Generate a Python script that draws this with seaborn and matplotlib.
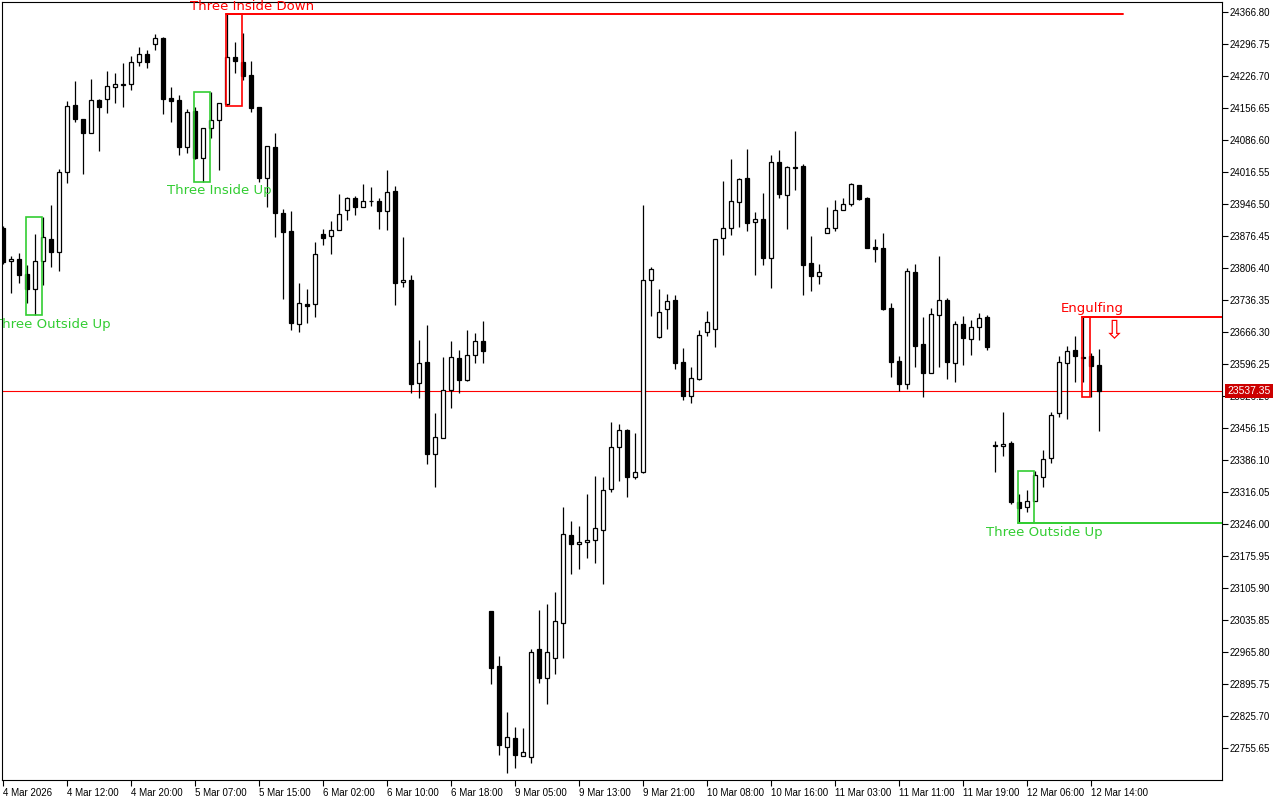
import matplotlib
matplotlib.use("Agg")
import matplotlib.pyplot as plt
import numpy as np
import pandas as pd
import seaborn as sns
from matplotlib.patches import Rectangle

# hourly candles
opens = [
    23894.0, 23821.7, 23826.1, 23793.3, 23759.8, 23821.1, 23869.9, 23840.8, 24017.2, 24163.2,
    24132.6, 24101.3, 24174.2, 24175.7, 24202.0, 24208.1, 24208.5, 24256.7, 24274.9, 24296.1,
    24309.2, 24178.5, 24174.2, 24070.6, 24149.4, 24047.9, 24112.2, 24129.7, 24164.8, 24267.6,
    24257.4, 24228.2, 24158.8, 24002.8, 24071.3, 23926.1, 23887.4, 23683.8, 23728.3, 23727.6,
    23880.2, 23875.8, 23888.9, 23932.7, 23959.0, 23939.3, 23952.0, 23952.4, 23930.5, 23974.3,
    23775.1, 23779.5, 23554.0, 23600.0, 23398.6, 23433.6, 23538.7, 23608.7, 23560.6, 23615.3,
    23645.9, 23055.6, 22935.2, 22757.2, 22776.9, 22737.5, 22736.6, 22971.7, 22909.5, 22952.0,
    23029.9, 23221.9, 23201.6, 23205.9, 23210.3, 23232.2, 23322.0, 23413.9, 23451.8, 23348.2,
    23360.5, 23779.5, 23656.0, 23716.0, 23735.7, 23600.0, 23526.9, 23564.1, 23665.6, 23673.5,
    23871.4, 23893.3, 23951.5, 24002.8, 23906.4, 23913.0, 23829.0, 24037.8, 23966.9, 24026.4,
    24029.0, 23816.7, 23789.6, 23882.4, 23893.3, 23932.7, 23945.9, 23988.1, 23959.6, 23851.7,
    23849.5, 23718.8, 23602.2, 23551.8, 23797.0, 23639.4, 23575.9, 23702.9, 23735.7, 23597.8,
    23683.2, 23650.3, 23676.6, 23699.1, 23417.8, 23416.1, 23422.7, 23294.2, 23283.2, 23295.7,
    23348.2, 23389.8, 23488.3, 23598.4, 23626.2, 23611.6, 23613.8, 23594.1,
]
highs = [
    23898.3, 23832.7, 23839.9, 23813.0, 23880.8, 23917.4, 23944.3, 24022.5, 24172.0, 24215.8,
    24132.6, 24219.5, 24175.7, 24237.6, 24233.9, 24255.8, 24270.5, 24289.5, 24283.6, 24318.0,
    24312.7, 24202.0, 24185.1, 24155.1, 24158.2, 24112.9, 24192.3, 24166.9, 24362.4, 24301.1,
    24320.8, 24259.5, 24158.8, 24073.5, 24101.3, 23934.9, 23931.8, 23772.9, 23759.8, 23862.7,
    23891.1, 23909.3, 23968.4, 23961.2, 23964.0, 23990.3, 23983.1, 23959.0, 24020.9, 23985.9,
    23873.6, 23790.4, 23648.1, 23681.6, 23488.3, 23610.9, 23646.6, 23626.2, 23670.7, 23664.1,
    23689.7, 23055.6, 22957.1, 22835.1, 22801.6, 22799.4, 22971.7, 23057.7, 23070.9, 23097.2,
    23283.2, 23252.6, 23241.6, 23311.7, 23351.1, 23348.9, 23469.3, 23464.9, 23454.0, 23445.2,
    23944.3, 23807.9, 23760.4, 23749.5, 23747.3, 23630.6, 23589.7, 23670.7, 23712.3, 23869.2,
    23996.9, 24045.0, 24002.8, 24066.9, 23928.3, 23970.6, 24053.8, 24064.7, 24029.0, 24106.3,
    24033.4, 23875.8, 23815.2, 23939.9, 23955.3, 23959.6, 23992.5, 23988.1, 23961.8, 23869.2,
    23883.0, 23729.8, 23613.1, 23805.7, 23814.5, 23698.5, 23718.2, 23832.0, 23740.1, 23689.7,
    23700.7, 23691.9, 23707.2, 23702.9, 23427.7, 23491.2, 23427.0, 23311.7, 23319.8, 23362.7,
    23408.0, 23491.2, 23613.8, 23635.0, 23658.2, 23699.8, 23619.7, 23629.1,
]
lows = [
    23815.2, 23751.7, 23772.9, 23729.1, 23703.5, 23769.2, 23807.9, 23800.5, 23991.8, 24125.3,
    24011.5, 24101.3, 24063.2, 24146.4, 24166.9, 24159.5, 24196.1, 24249.3, 24243.6, 24283.6,
    24143.5, 24126.7, 24053.8, 24058.8, 24044.4, 23995.3, 24090.3, 24020.9, 24161.0, 24232.6,
    24217.9, 24148.6, 23995.3, 23940.6, 23874.9, 23738.5, 23670.7, 23665.6, 23686.7, 23699.8,
    23856.8, 23837.7, 23888.9, 23911.5, 23923.1, 23939.3, 23942.8, 23891.8, 23890.2, 23726.1,
    23765.5, 23532.1, 23522.5, 23376.7, 23327.7, 23433.6, 23500.6, 23532.1, 23558.4, 23599.1,
    23599.1, 22895.1, 22740.3, 22700.3, 22711.2, 22737.5, 22723.5, 22898.6, 22851.3, 22917.0,
    22953.3, 23137.2, 23148.2, 23172.2, 23161.3, 23115.3, 23316.7, 23340.8, 23305.1, 23345.2,
    23358.3, 23702.0, 23652.5, 23672.9, 23586.0, 23517.4, 23511.5, 23561.9, 23658.2, 23634.1,
    23834.9, 23878.6, 23896.2, 23888.1, 23791.1, 23813.0, 23763.3, 23960.3, 23892.4, 23977.2,
    23748.0, 23756.7, 23772.0, 23882.4, 23886.7, 23932.7, 23941.5, 23955.9, 23850.8, 23818.9,
    23715.1, 23568.5, 23537.8, 23542.2, 23590.3, 23524.7, 23575.9, 23590.3, 23562.8, 23557.5,
    23593.4, 23615.3, 23648.1, 23626.2, 23359.2, 23395.5, 23289.1, 23248.8, 23272.9, 23295.7,
    23327.7, 23380.2, 23480.9, 23475.2, 23557.5, 23557.5, 23524.7, 23450.2,
]
closes = [
    23819.5, 23826.1, 23791.1, 23759.8, 23821.7, 23873.6, 23842.1, 24017.2, 24161.0, 24131.9,
    24102.6, 24174.2, 24159.5, 24204.8, 24208.5, 24209.2, 24256.7, 24274.9, 24256.7, 24309.2,
    24176.4, 24172.6, 24070.6, 24147.2, 24047.9, 24112.2, 24129.7, 24166.9, 24267.6, 24258.9,
    24227.4, 24157.3, 24002.8, 24073.5, 23926.1, 23884.6, 23685.4, 23729.1, 23723.9, 23836.4,
    23872.7, 23888.9, 23924.0, 23959.0, 23939.3, 23952.4, 23952.4, 23930.5, 23972.1, 23772.9,
    23779.5, 23551.8, 23597.8, 23399.9, 23435.8, 23538.7, 23610.9, 23560.6, 23615.3, 23645.9,
    23624.1, 22931.4, 22762.2, 22779.1, 22740.3, 22747.6, 22965.2, 22909.5, 22965.2, 23033.0,
    23223.5, 23201.6, 23206.6, 23211.0, 23236.6, 23319.8, 23413.9, 23451.8, 23348.2, 23360.5,
    23779.5, 23803.6, 23709.4, 23733.5, 23599.1, 23526.9, 23564.9, 23659.1, 23687.5, 23869.2,
    23893.3, 23953.1, 24000.6, 23905.6, 23913.0, 23829.0, 24037.8, 23969.1, 24026.8, 24026.8,
    23813.6, 23789.6, 23798.3, 23893.3, 23932.7, 23946.5, 23989.6, 23958.1, 23850.8, 23847.3,
    23717.3, 23601.3, 23553.1, 23799.2, 23636.3, 23577.2, 23705.1, 23735.7, 23600.0, 23683.2,
    23652.5, 23676.6, 23696.3, 23634.1, 23418.3, 23421.1, 23293.5, 23281.7, 23295.7, 23352.6,
    23389.0, 23484.0, 23600.0, 23625.4, 23613.1, 23610.1, 23592.5, 23537.35,
]

time_labels = [
    "4 Mar 2026", "4 Mar 12:00", "4 Mar 20:00", "5 Mar 07:00", "5 Mar 15:00", "6 Mar 02:00",
    "6 Mar 10:00", "6 Mar 18:00", "9 Mar 05:00", "9 Mar 13:00", "9 Mar 21:00", "10 Mar 08:00",
    "10 Mar 16:00", "11 Mar 03:00", "11 Mar 11:00", "11 Mar 19:00", "12 Mar 06:00", "12 Mar 14:00",
]
price_ticks = [
    24366.80, 24296.75, 24226.70, 24156.65, 24086.60, 24016.55, 23946.50, 23876.45,
    23806.40, 23736.35, 23666.30, 23596.25, 23526.20, 23456.15, 23386.10, 23316.05,
    23246.00, 23175.95, 23105.90, 23035.85, 22965.80, 22895.75, 22825.70, 22755.65,
]
current_price = 23537.35

# name, first candle, last candle, direction, label x, extension end
patterns = [
    ("Three Outside Up", 3, 5, "bull", 6.2, None),
    ("Three Inside Up", 24, 26, "bull", 27.1, None),
    ("Three Inside Down", 28, 30, "bear", 31.2, 140),
    ("Three Outside Up", 127, 129, "bull", 130.2, "edge"),
    ("Engulfing", 135, 136, "bear", 136.2, "edge"),
]

GREEN = "#32cd32"
RED = "#ff0000"

sns.set_theme(style="white")
plt.rcParams["font.family"] = ["DejaVu Sans"]

df = pd.DataFrame({"open": opens, "high": highs, "low": lows, "close": closes})
df["idx"] = np.arange(len(df))
up = df["close"] >= df["open"]
body_bottom = df[["open", "close"]].min(axis=1)
body_height = (df["close"] - df["open"]).abs().clip(lower=0.6)

fig = plt.figure(figsize=(12.8, 8), dpi=100)
ax = fig.add_axes([2 / 1280, 20 / 800, 1220 / 1280, 778 / 800])
ax.set_facecolor("white")

xmax = 152.4
ax.set_xlim(-0.125, xmax)
ax.set_ylim(22685.6, 24388.7)

ax.axhline(current_price, color=RED, linewidth=0.8, zorder=1)

ax.vlines(df["idx"], df["low"], df["high"], color="black", linewidth=0.9, zorder=2)
ax.bar(df["idx"][up], body_height[up], bottom=body_bottom[up], width=0.52,
       color="white", edgecolor="black", linewidth=0.9, zorder=3)
ax.bar(df["idx"][~up], body_height[~up], bottom=body_bottom[~up], width=0.52,
       color="black", edgecolor="black", linewidth=0.9, zorder=3)

for name, a, b, kind, tx, end in patterns:
    seg = df.iloc[a:b + 1]
    top, bot = seg["high"].max(), seg["low"].min()
    color = GREEN if kind == "bull" else RED
    x0 = a - 0.15
    ax.add_patch(Rectangle((x0, bot), b - a, top - bot, fill=False,
                           edgecolor=color, linewidth=1.2, zorder=4))
    level = bot if kind == "bull" else top
    if end is not None:
        x1 = xmax if end == "edge" else end
        ax.plot([x0, x1], [level, level], color=color, linewidth=1.4, zorder=4)
    if kind == "bull":
        ax.annotate(name, (tx, bot), xytext=(0, -2), textcoords="offset points",
                    ha="center", va="top", color=color, fontsize=9.5, zorder=5)
    else:
        ax.annotate(name, (tx, top), xytext=(0, 1), textcoords="offset points",
                    ha="center", va="bottom", color=color, fontsize=9.5, zorder=5)

ax.text(138.9, 23668.5, "\u21e9", color=RED, fontsize=18, ha="center", va="center", zorder=5)

ax.yaxis.tick_right()
ax.set_yticks(price_ticks)
ax.set_yticklabels([f"{p:.2f}" for p in price_ticks], family="Liberation Sans")
ax.set_xticks(np.arange(0, 8 * len(time_labels), 8))
ax.set_xticklabels(time_labels, ha="left", family="Liberation Sans")
ax.tick_params(axis="y", right=True, left=False, labelright=True, labelleft=False,
               length=4, width=0.8, pad=1.5, labelsize=7, colors="black", direction="out")
ax.tick_params(axis="x", bottom=True, length=4, width=0.8, pad=1.5, labelsize=7,
               colors="black", direction="out")
for spine in ax.spines.values():
    spine.set_color("black")
    spine.set_linewidth(0.8)
ax.grid(False)

ax.text(1.0045, current_price, f"{current_price:.2f}", transform=ax.get_yaxis_transform(),
        ha="left", va="center", color="white", fontsize=7.5, family="Liberation Sans",
        zorder=10, clip_on=False,
        bbox=dict(boxstyle="square,pad=0.2", facecolor="#cc0000", edgecolor="none"))

fig.savefig("out.png", dpi=100)
plt.close(fig)
